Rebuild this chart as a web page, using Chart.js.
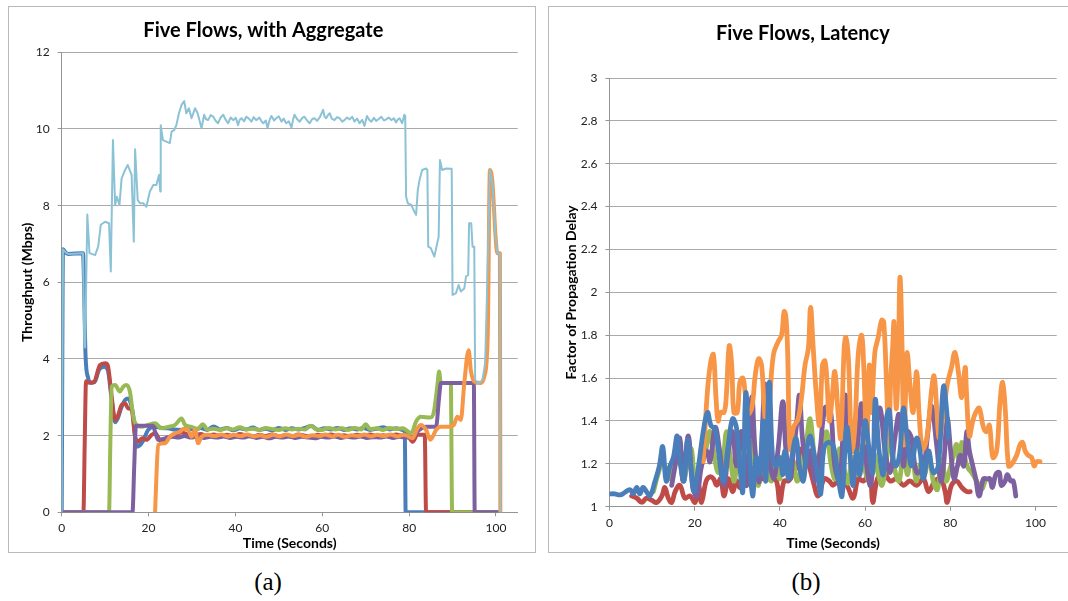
<!DOCTYPE html>
<html>
<head>
<meta charset="utf-8">
<script src="https://cdn.jsdelivr.net/npm/chart.js@4.4.0/dist/chart.umd.min.js"></script>
<style>
  body { margin: 0; width: 1068px; height: 601px; overflow: hidden; background: #fff; }
  .panel { position: absolute; top: 6px; width: 528px; height: 547px; box-sizing: border-box; border: 1px solid #b9b9b9; }
  .panel div { position: relative; width: 526px; height: 545px; }
  .caption { position: absolute; top: 567px; width: 100px; text-align: center; font-family: 'Liberation Serif', serif; font-size: 25px; line-height: 30px; }
</style>
</head>
<body>
<div class="panel" style="left: 8px"><div><canvas id="throughput"></canvas></div></div>
<div class="panel" style="left: 548px"><div><canvas id="latency"></canvas></div></div>
<div class="caption" style="left: 218px">(a)</div>
<div class="caption" style="left: 756px">(b)</div>
<script>
const xTicks = [0, 20, 40, 60, 80, 100]

// (a) throughput, [seconds, Mbps]
const aggregate = [
  [0, 0], [0.3, 6.86], [0.9, 6.78], [1.5, 6.74], [4.9, 6.76], [5.2, 4.4], [5.4, 4.3], [5.9, 7.77], [6.4, 6.76],
  [7.7, 6.71], [8.4, 6.93], [9.0, 7.5], [10.0, 7.58], [10.9, 7.54], [11.3, 6.28], [11.8, 9.71], [12.3, 8.02],
  [12.7, 8.23], [13.3, 8.02], [13.8, 8.71], [14.6, 8.93], [15.2, 9.06], [16.1, 8.8], [16.6, 7.06], [16.9, 9.47],
  [17.5, 8.15], [18.0, 8.06], [18.8, 8.06], [19.5, 7.97], [20.3, 8.37], [21.1, 8.54], [21.8, 8.54], [22.4, 8.8],
  [22.7, 8.37], [22.8, 10.1], [23.3, 9.71], [24.1, 9.67], [24.9, 9.63], [25.3, 9.93], [25.9, 9.97], [26.4, 10.1],
  [27.0, 10.41], [27.6, 10.63], [28.2, 10.73], [28.7, 10.41], [29.3, 10.54], [29.9, 10.28], [30.7, 10.54],
  [31.3, 10.41], [32.2, 10.02], [32.8, 10.37], [33.2, 10.26], [33.7, 10.23], [34.3, 10.36], [34.9, 10.32],
  [35.4, 10.22], [36.0, 10.15], [36.6, 10.3], [37.2, 10.37], [37.7, 10.25], [38.3, 10.15], [38.9, 10.3],
  [39.5, 10.23], [40.1, 10.29], [40.6, 10.1], [41.0, 10.24], [41.4, 10.28], [42.0, 10.2], [42.5, 10.32],
  [43.1, 10.27], [43.7, 10.19], [44.2, 10.31], [44.8, 10.23], [45.5, 10.3], [46.0, 10.2], [46.4, 10.15],
  [47.0, 10.22], [47.4, 10.02], [47.9, 10.25], [48.3, 10.34], [48.9, 10.22], [49.4, 10.28], [50.0, 10.33],
  [50.6, 10.19], [51.1, 10.27], [51.7, 10.15], [52.3, 10.2], [52.9, 10.04], [53.3, 10.25], [53.6, 10.37],
  [54.2, 10.26], [54.8, 10.19], [55.4, 10.29], [55.9, 10.32], [56.5, 10.22], [57.1, 10.15], [57.7, 10.26],
  [58.2, 10.28], [58.8, 10.21], [59.4, 10.3], [60.2, 10.5], [60.5, 10.33], [60.9, 10.28], [61.3, 10.36],
  [61.7, 10.41], [62.2, 10.27], [62.8, 10.23], [63.4, 10.31], [64.0, 10.28], [64.6, 10.19], [65.1, 10.23],
  [65.7, 10.3], [66.3, 10.25], [66.9, 10.32], [67.4, 10.19], [68.0, 10.27], [68.6, 10.15], [69.2, 10.24],
  [69.7, 10.08], [70.3, 10.34], [70.8, 10.24], [71.3, 10.19], [71.9, 10.29], [72.4, 10.21], [73.0, 10.26],
  [73.6, 10.32], [74.2, 10.22], [74.7, 10.25], [75.3, 10.3], [75.9, 10.23], [76.5, 10.28], [77.0, 10.17],
  [77.4, 10.25], [77.8, 10.28], [78.4, 10.15], [78.9, 10.37], [79.1, 10.34], [79.3, 8.23], [79.7, 8.06],
  [80.5, 8.02], [81.2, 7.84], [81.6, 7.76], [82.0, 8.41], [82.4, 8.67], [83.0, 8.93], [83.9, 8.97], [84.2, 8.93],
  [84.4, 6.93], [85.0, 6.89], [85.8, 6.67], [86.3, 6.93], [86.8, 7.19], [87.1, 9.19], [87.6, 8.93], [88.5, 8.97],
  [89.8, 8.96], [90.0, 5.67], [90.8, 5.72], [91.4, 5.93], [91.9, 5.76], [92.7, 5.84], [93.1, 6.15], [93.6, 6.19],
  [93.8, 7.54], [94.3, 7.54], [94.6, 6.93], [95.0, 6.93], [95.2, 3.45], [96.0, 3.36], [96.9, 3.45], [97.5, 3.9],
  [98.0, 6.0], [98.6, 8.93], [99.2, 8.58], [99.9, 7.19], [100.3, 6.76], [100.9, 6.76], [101.0, 0]
]
const flow1 = [
  [0, 0], [0.3, 6.86], [0.9, 6.78], [1.5, 6.74], [4.9, 6.76], [5.5, 4.06], [6.1, 3.5], [6.6, 3.38], [7.6, 3.4],
  [8.6, 3.72], [9.8, 3.8], [10.6, 3.72], [11.5, 2.95], [12.3, 2.35], [12.9, 2.45], [13.7, 2.72], [14.6, 2.93],
  [15.3, 2.97], [16.0, 2.8], [16.5, 2.49], [17.2, 1.71], [18.0, 1.75], [18.8, 1.88], [19.9, 2.15], [21.5, 2.23],
  [23.0, 2.2], [24.5, 2.19], [26.0, 2.16], [27.6, 2.15], [29.0, 2.2], [30.5, 2.15], [32.0, 2.2], [33.5, 2.15],
  [35.0, 2.24], [36.5, 2.16], [38.0, 2.2], [39.5, 2.14], [41.0, 2.19], [42.5, 2.16], [44.0, 2.21], [45.5, 2.15],
  [47.0, 2.18], [48.5, 2.14], [50.0, 2.2], [51.5, 2.15], [53.0, 2.19], [54.5, 2.16], [56.0, 2.2], [57.5, 2.25],
  [59.0, 2.15], [60.5, 2.19], [62.0, 2.16], [63.5, 2.2], [65.0, 2.15], [66.5, 2.19], [68.0, 2.16], [69.5, 2.2],
  [71.0, 2.15], [72.5, 2.18], [74.0, 2.22], [75.5, 2.16], [77.0, 2.19], [78.6, 2.15], [79.0, 2.12], [79.2, 0],
  [100.3, 0]
]
const flow2 = [
  [0, 0], [5.0, 0], [5.3, 1.8], [5.6, 3.42], [6.5, 3.38], [7.5, 3.41], [8.8, 3.84], [10.0, 3.89], [10.6, 3.84],
  [11.5, 3.02], [12.3, 2.41], [12.9, 2.5], [13.8, 2.8], [14.6, 2.84], [15.3, 2.71], [16.1, 2.67], [16.9, 1.97],
  [17.6, 1.84], [18.5, 1.93], [19.5, 1.89], [20.7, 2.02], [21.5, 2.06], [23.0, 1.84], [24.1, 1.93], [25.3, 1.97],
  [27.6, 2.08], [29.0, 2.03], [30.5, 2.0], [32.0, 2.04], [33.5, 1.99], [35.0, 2.03], [36.5, 1.98], [38.0, 2.02],
  [39.5, 1.99], [41.0, 2.04], [42.5, 2.0], [44.0, 1.97], [45.5, 2.02], [47.0, 1.99], [48.5, 2.03], [50.0, 1.98],
  [51.5, 2.01], [53.0, 1.97], [54.5, 2.03], [56.0, 2.0], [57.5, 1.97], [59.0, 2.02], [60.5, 1.99], [62.0, 2.03],
  [63.5, 1.98], [65.0, 2.01], [66.5, 1.98], [68.0, 2.02], [69.5, 1.99], [71.0, 2.03], [72.5, 1.98], [74.0, 2.01],
  [75.5, 1.99], [77.0, 2.03], [78.5, 1.99], [79.5, 2.02], [80.8, 1.84], [81.9, 2.02], [83.6, 2.02], [83.9, 0],
  [100.3, 0]
]
const flow3 = [
  [0, 0], [10.9, 0], [11.2, 1.8], [11.5, 3.28], [12.3, 3.32], [13.4, 3.15], [14.2, 3.28], [14.9, 3.32],
  [15.7, 3.15], [16.5, 2.49], [17.2, 2.28], [18.4, 2.23], [19.9, 2.28], [21.5, 2.32], [23.0, 2.19], [24.5, 2.23],
  [26.1, 2.28], [27.6, 2.45], [28.4, 2.28], [29.9, 2.23], [31.3, 2.17], [32.5, 2.3], [33.5, 2.16], [35.0, 2.18],
  [36.5, 2.15], [38.0, 2.19], [39.5, 2.16], [41.0, 2.22], [42.5, 2.16], [44.0, 2.18], [45.5, 2.15], [47.0, 2.2],
  [48.5, 2.17], [50.0, 2.15], [51.5, 2.19], [53.0, 2.16], [54.5, 2.18], [56.0, 2.16], [57.3, 2.26], [58.5, 2.17],
  [60.0, 2.15], [61.5, 2.2], [63.0, 2.16], [64.5, 2.19], [66.0, 2.15], [67.5, 2.2], [69.0, 2.16], [70.0, 2.3],
  [71.0, 2.17], [72.5, 2.19], [74.0, 2.15], [75.5, 2.2], [77.0, 2.17], [78.5, 2.19], [79.3, 2.15], [80.5, 2.06],
  [81.6, 2.37], [82.7, 2.49], [84.9, 2.47], [85.7, 2.62], [86.5, 3.3], [86.9, 3.67], [87.3, 3.37], [89.6, 3.37],
  [89.9, 0], [100.3, 0]
]
const flow4 = [
  [0, 0], [16.3, 0], [16.7, 1.2], [17.1, 2.26], [19.0, 2.26], [21.0, 2.26], [21.5, 2.1], [22.2, 1.89],
  [23.8, 1.93], [25.3, 1.98], [26.8, 1.95], [28.3, 1.99], [29.8, 1.95], [31.3, 1.98], [32.8, 1.94], [34.3, 1.97],
  [35.8, 1.95], [37.3, 1.98], [38.8, 1.94], [40.3, 1.97], [41.8, 1.95], [43.3, 1.99], [44.8, 1.94], [46.3, 1.97],
  [47.8, 1.93], [49.3, 1.97], [50.8, 1.95], [52.3, 1.98], [53.8, 1.94], [55.3, 1.97], [56.8, 1.95], [58.3, 1.93],
  [59.8, 1.97], [61.3, 1.95], [62.8, 1.98], [64.3, 1.94], [65.8, 1.97], [67.3, 1.95], [68.8, 1.98], [70.3, 1.94],
  [71.8, 1.96], [73.3, 1.95], [74.8, 1.98], [76.3, 1.94], [77.8, 1.97], [79.3, 1.95], [80.8, 1.96], [82.3, 2.15],
  [83.9, 2.23], [86.2, 2.23], [86.9, 3.0], [87.3, 3.37], [94.9, 3.37], [95.1, 0], [100.3, 0]
]
const flow5 = [
  [21.5, 0], [21.8, 0.9], [22.2, 1.76], [23.8, 1.8], [24.9, 1.97], [26.1, 2.06], [27.2, 2.1], [28.0, 2.17],
  [29.1, 2.15], [29.9, 1.97], [30.7, 2.15], [31.4, 1.8], [32.2, 1.97], [33.7, 2.02], [35.2, 1.99], [36.7, 2.03],
  [38.2, 1.98], [39.7, 2.02], [41.2, 1.99], [42.7, 2.03], [44.2, 1.98], [45.7, 2.01], [47.2, 1.97], [48.7, 2.02],
  [50.2, 1.98], [51.7, 2.03], [53.2, 1.99], [54.7, 2.02], [56.2, 1.97], [57.7, 2.01], [59.2, 1.99], [60.7, 2.03],
  [62.2, 1.98], [63.7, 2.02], [65.2, 1.97], [66.7, 2.01], [68.2, 1.99], [69.7, 2.03], [71.2, 1.98], [72.7, 2.02],
  [74.2, 1.99], [75.7, 2.03], [77.2, 1.98], [78.7, 2.02], [79.5, 2.0], [80.8, 1.93], [81.9, 2.19], [82.7, 2.28],
  [83.9, 2.15], [84.9, 1.89], [86.2, 2.15], [87.3, 2.23], [89.1, 2.23], [90.3, 2.28], [91.1, 2.49], [91.9, 2.41],
  [92.7, 3.37], [93.7, 4.23], [94.2, 3.71], [95.0, 3.41], [96.5, 3.37], [97.3, 3.54], [98.1, 4.6], [98.6, 8.93],
  [99.2, 8.58], [99.9, 7.19], [100.3, 6.76], [100.9, 6.76], [101.0, 0]
]

// (b) latency, [seconds, factor of propagation delay]
const latency1 = [
  [0, 1.06], [1.2, 1.06], [2.5, 1.055], [3.5, 1.065], [4.8, 1.08], [5.6, 1.06], [6.4, 1.09], [7.1, 1.06],
  [7.9, 1.09], [8.7, 1.07], [9.5, 1.05], [10.7, 1.12], [11.7, 1.19], [12.5, 1.28], [13.3, 1.12], [14.2, 1.19],
  [15.0, 1.23], [15.9, 1.33], [16.7, 1.19], [17.5, 1.12], [18.3, 1.31], [19.1, 1.19], [19.8, 1.07], [20.9, 1.19],
  [22.0, 1.35], [23.0, 1.44], [23.8, 1.38], [24.8, 1.36], [25.5, 1.27], [26.7, 1.12], [27.9, 1.29], [28.9, 1.41],
  [29.8, 1.37], [30.6, 1.19], [31.3, 1.07], [32.0, 1.53], [32.8, 1.26], [33.6, 1.05], [34.4, 1.23], [35.2, 1.15],
  [36.1, 1.40], [36.7, 1.12], [37.5, 1.58], [38.3, 1.23], [39.1, 1.19], [40.0, 1.23], [40.7, 1.15], [41.2, 1.26],
  [42.0, 1.13], [42.8, 1.23], [43.8, 1.32], [44.6, 1.19], [45.5, 1.12], [46.3, 1.26], [47.1, 1.33], [47.9, 1.26],
  [49.0, 1.13], [49.6, 1.06], [50.3, 1.27], [51.4, 1.30], [52.6, 1.28], [53.8, 1.12], [54.6, 1.05], [55.7, 1.37],
  [56.7, 1.19], [57.2, 1.10], [58.0, 1.26], [58.8, 1.15], [60.0, 1.40], [61.0, 1.26], [61.8, 1.16], [62.4, 1.50],
  [63.3, 1.26], [64.3, 1.15], [65.0, 1.41], [65.7, 1.45], [66.5, 1.23], [67.3, 1.19], [68.2, 1.26], [69.0, 1.46],
  [69.9, 1.32], [70.9, 1.19], [72.1, 1.32], [72.9, 1.26], [73.7, 1.13], [74.9, 1.26], [76.0, 1.16], [77.2, 1.19],
  [78.4, 1.56], [79.2, 1.44], [79.6, 1.32]
]
const latency2 = [
  [5.2, 1.05], [6.4, 1.04], [7.6, 1.02], [8.7, 1.04], [9.9, 1.03], [11.1, 1.02], [12.3, 1.05], [13.0, 1.09],
  [13.8, 1.04], [14.6, 1.02], [15.4, 1.07], [16.5, 1.10], [17.7, 1.04], [18.9, 1.05], [20.1, 1.02], [20.9, 1.10],
  [21.6, 1.02], [22.7, 1.12], [23.6, 1.14], [24.4, 1.13], [25.2, 1.10], [26.1, 1.13], [26.9, 1.05], [27.9, 1.13],
  [28.9, 1.07], [29.8, 1.12], [30.6, 1.09], [31.6, 1.16], [32.6, 1.12], [33.8, 1.15], [34.9, 1.18], [35.9, 1.13],
  [36.9, 1.16], [38.1, 1.13], [39.2, 1.12], [40.0, 1.02], [41.0, 1.12], [42.0, 1.12], [43.0, 1.15], [44.0, 1.19],
  [45.1, 1.27], [46.3, 1.23], [47.8, 1.12], [49.0, 1.05], [50.4, 1.13], [51.6, 1.12], [52.5, 1.10], [54.1, 1.13],
  [55.7, 1.10], [57.2, 1.04], [58.4, 1.13], [59.6, 1.12], [61.1, 1.15], [61.8, 1.02], [62.9, 1.13], [64.3, 1.16],
  [65.9, 1.12], [67.4, 1.13], [69.0, 1.10], [70.5, 1.12], [72.1, 1.10], [73.7, 1.13], [74.9, 1.07], [76.4, 1.12],
  [77.8, 1.13], [78.8, 1.07], [79.3, 1.02], [80.3, 1.10], [81.5, 1.12], [82.7, 1.09], [83.9, 1.07], [84.7, 1.07]
]
const latency3 = [
  [10.3, 1.07], [11.5, 1.16], [12.3, 1.2], [13.0, 1.19], [14.2, 1.13], [15.2, 1.19], [16.4, 1.23], [17.3, 1.12],
  [18.3, 1.2], [19.2, 1.27], [20.1, 1.1], [21.0, 1.15], [22.0, 1.22], [23.0, 1.3], [23.6, 1.35], [24.6, 1.24],
  [25.5, 1.16], [26.5, 1.2], [27.5, 1.35], [28.4, 1.22], [29.3, 1.12], [30.3, 1.26], [31.2, 1.18], [32.2, 1.1],
  [33.2, 1.3], [34.1, 1.2], [35.0, 1.1], [36.0, 1.28], [37.0, 1.17], [38.0, 1.12], [39.0, 1.2], [40.0, 1.13],
  [41.0, 1.25], [42.0, 1.15], [43.0, 1.22], [44.0, 1.12], [45.0, 1.18], [46.2, 1.3], [47.1, 1.41], [48.0, 1.25],
  [49.0, 1.14], [50.0, 1.23], [51.0, 1.35], [52.0, 1.2], [53.0, 1.13], [54.0, 1.27], [55.0, 1.18], [56.0, 1.11],
  [57.0, 1.23], [58.0, 1.15], [59.0, 1.28], [60.0, 1.17], [61.0, 1.12], [62.0, 1.25], [63.0, 1.16], [64.0, 1.1],
  [65.0, 1.22], [66.0, 1.3], [67.0, 1.17], [68.0, 1.12], [69.0, 1.25], [70.0, 1.15], [71.0, 1.28], [72.0, 1.12],
  [73.0, 1.2], [74.0, 1.15], [75.0, 1.25], [76.0, 1.12], [77.0, 1.08], [78.0, 1.22], [79.0, 1.12], [80.0, 1.18],
  [80.8, 1.24], [81.5, 1.29], [82.2, 1.2], [82.7, 1.30], [83.5, 1.22], [84.2, 1.18], [85.0, 1.16], [86.2, 1.12],
  [87.3, 1.08], [88.2, 1.12]
]
const latency4 = [
  [14.6, 1.10], [15.4, 1.19], [16.5, 1.32], [17.3, 1.12], [18.5, 1.33], [19.5, 1.10], [20.5, 1.05], [21.6, 1.19],
  [22.8, 1.26], [23.6, 1.21], [24.8, 1.37], [25.8, 1.27], [26.9, 1.10], [27.9, 1.26], [28.9, 1.35], [29.8, 1.19],
  [31.0, 1.35], [32.2, 1.10], [33.4, 1.51], [34.2, 1.26], [35.2, 1.12], [36.5, 1.57], [37.3, 1.27], [38.5, 1.13],
  [39.6, 1.27], [40.7, 1.49], [41.4, 1.27], [42.4, 1.13], [43.2, 1.26], [43.9, 1.38], [44.6, 1.52], [45.3, 1.32],
  [46.3, 1.19], [47.2, 1.26], [48.2, 1.12], [49.4, 1.26], [50.6, 1.46], [51.8, 1.46], [52.9, 1.19], [54.1, 1.12],
  [55.3, 1.52], [56.3, 1.26], [57.2, 1.35], [58.0, 1.26], [59.2, 1.48], [60.4, 1.19], [61.3, 1.10], [62.3, 1.32],
  [63.5, 1.46], [64.7, 1.26], [65.9, 1.16], [67.0, 1.32], [68.0, 1.43], [69.0, 1.19], [69.9, 1.35], [70.9, 1.32],
  [72.1, 1.16], [73.7, 1.19], [74.6, 1.32], [75.6, 1.47], [76.8, 1.29], [77.8, 1.12], [78.5, 1.21], [79.3, 1.41],
  [80.1, 1.26], [80.9, 1.13], [81.7, 1.19], [82.4, 1.24], [83.2, 1.19], [83.9, 1.35], [84.5, 1.26], [85.3, 1.19],
  [86.0, 1.13], [86.8, 1.05], [87.8, 1.13], [88.7, 1.13], [89.3, 1.13], [89.9, 1.09], [90.7, 1.15], [91.5, 1.16],
  [92.0, 1.10], [92.9, 1.12], [93.4, 1.15], [94.2, 1.12], [94.8, 1.12], [95.4, 1.05]
]
const latency5 = [
  [22.0, 1.21], [23.0, 1.54], [23.8, 1.68], [24.4, 1.71], [25.0, 1.51], [25.5, 1.40], [26.1, 1.44], [26.9, 1.44],
  [27.4, 1.51], [28.1, 1.75], [28.7, 1.66], [29.2, 1.44], [30.0, 1.44], [30.6, 1.58], [31.3, 1.60], [31.8, 1.54],
  [32.4, 1.43], [33.4, 1.46], [34.2, 1.61], [35.0, 1.69], [35.7, 1.66], [36.3, 1.47], [36.9, 1.35], [37.6, 1.5],
  [38.5, 1.71], [39.6, 1.77], [40.4, 1.80], [41.0, 1.91], [41.4, 1.89], [41.8, 1.74], [42.4, 1.27], [43.2, 1.37],
  [44.3, 1.41], [45.1, 1.51], [45.9, 1.66], [46.7, 1.74], [47.2, 1.93], [47.8, 1.75], [48.5, 1.54], [49.3, 1.38],
  [50.0, 1.66], [50.6, 1.68], [51.1, 1.57], [51.6, 1.40], [52.2, 1.49], [52.9, 1.63], [53.7, 1.43], [54.3, 1.32],
  [55.1, 1.74], [55.5, 1.79], [56.1, 1.69], [56.9, 1.26], [57.6, 1.37], [58.4, 1.71], [59.2, 1.80], [59.7, 1.65],
  [60.4, 1.30], [61.0, 1.66], [61.5, 1.44], [62.3, 1.72], [63.1, 1.79], [63.9, 1.87], [64.4, 1.86], [65.1, 1.54],
  [65.6, 1.30], [66.0, 1.58], [66.5, 1.75], [66.8, 1.86], [67.3, 1.46], [67.8, 1.66], [68.2, 2.07], [68.7, 1.74],
  [69.1, 1.29], [69.6, 1.58], [69.9, 1.72], [70.5, 1.58], [71.3, 1.44], [72.1, 1.63], [72.7, 1.43], [73.5, 1.27],
  [74.5, 1.32], [75.6, 1.54], [76.2, 1.61], [76.8, 1.47], [77.4, 1.32], [78.4, 1.43], [79.3, 1.57], [80.3, 1.65],
  [81.1, 1.72], [81.9, 1.63], [82.7, 1.51], [83.5, 1.65], [83.8, 1.54], [84.5, 1.33], [85.3, 1.40], [86.0, 1.44],
  [86.8, 1.46], [87.8, 1.37], [88.5, 1.35], [89.2, 1.38], [90.0, 1.23], [90.9, 1.26], [91.7, 1.49], [92.3, 1.58],
  [92.9, 1.46], [93.7, 1.19], [94.5, 1.20], [95.6, 1.24], [96.4, 1.29], [97.0, 1.30], [97.6, 1.26], [98.3, 1.24],
  [99.1, 1.23], [99.7, 1.19], [100.3, 1.21], [101.1, 1.21]
]

const font = 'Lato'
const gridColor = '#a9a9a9'
const axisColor = '#959595'

const line = (data, color, width, order, smooth) => ({
  data,
  borderColor: color,
  borderWidth: width,
  pointRadius: 0,
  order,
  tension: smooth === 'none' ? 0 : 0.4,
  cubicInterpolationMode: smooth === 'monotone' ? 'monotone' : 'default',
  borderJoinStyle: 'round',
  borderCapStyle: 'round'
})

const getChartOptions = c => ({
  responsive: true,
  maintainAspectRatio: false,
  animation: false,
  layout: { padding: { left: 0, right: c.padRight, top: 0, bottom: 0 } },
  scales: {
    x: {
      type: 'linear',
      min: 0,
      max: 105,
      afterBuildTicks: axis => {
        axis.ticks = xTicks.map(value => ({ value }))
      },
      afterFit: axis => {
        axis.height = c.xHeight
      },
      ticks: { color: '#222', font: { family: font, size: 12 }, padding: 5, maxRotation: 0 },
      grid: { drawOnChartArea: false, tickLength: 4, color: axisColor },
      border: { color: axisColor },
      title: {
        display: true,
        text: 'Time (Seconds)',
        color: '#000',
        font: { family: font, size: 14, weight: 'bold' },
        padding: 0
      }
    },
    y: {
      min: c.yMin,
      max: c.yMax,
      afterFit: axis => {
        axis.width = c.yWidth
      },
      ticks: {
        stepSize: c.yStep,
        color: '#222',
        font: { family: font, size: 12 },
        padding: 8,
        callback: v => String(Math.round(v * 10) / 10)
      },
      grid: { color: gridColor, tickLength: 4, tickColor: axisColor },
      border: { color: axisColor },
      title: {
        display: true,
        text: c.yTitle,
        color: '#000',
        font: { family: font, size: 14, weight: 'bold' },
        padding: { top: c.yTitlePad, bottom: 0 }
      }
    }
  },
  plugins: {
    legend: { display: false },
    tooltip: { enabled: false },
    title: {
      display: true,
      text: c.title,
      color: '#000',
      font: { family: font, size: 20, weight: 'bold' },
      padding: { top: c.titleTop, bottom: c.titleBottom }
    }
  }
})

new Chart(document.getElementById('throughput'), {
  type: 'line',
  data: {
    datasets: [
      line(aggregate, '#8cc2d6', 2, 0, 'none'),
      line(flow5, '#f79646', 4, 1, 'monotone'),
      line(flow4, '#7d60a0', 4, 2, 'monotone'),
      line(flow3, '#98b954', 4, 3, 'monotone'),
      line(flow2, '#be4b48', 4, 4, 'monotone'),
      line(flow1, '#4a7ebb', 4, 5, 'monotone')
    ]
  },
  options: getChartOptions({
    title: 'Five Flows, with Aggregate',
    titleTop: 12,
    titleBottom: 9.3,
    yTitle: 'Throughput (Mbps)',
    yTitlePad: 9.6,
    yWidth: 52.7,
    xHeight: 39.7,
    padRight: 17.3,
    yMin: 0,
    yMax: 12,
    yStep: 2
  })
})

new Chart(document.getElementById('latency'), {
  type: 'line',
  data: {
    datasets: [
      line(latency1, '#4a7ebb', 4.8, 0, 'bezier'),
      line(latency5, '#f79646', 4.8, 1, 'bezier'),
      line(latency4, '#7d60a0', 4.8, 2, 'bezier'),
      line(latency3, '#98b954', 4.8, 3, 'bezier'),
      line(latency2, '#be4b48', 4.8, 4, 'bezier')
    ]
  },
  options: getChartOptions({
    title: 'Five Flows, Latency',
    titleTop: 15,
    titleBottom: 32,
    yTitle: 'Factor of Propagation Delay',
    yTitlePad: 13.6,
    yWidth: 60.5,
    xHeight: 45.3,
    padRight: 18.3,
    yMin: 1,
    yMax: 3,
    yStep: 0.2
  })
})
</script>
</body>
</html>
